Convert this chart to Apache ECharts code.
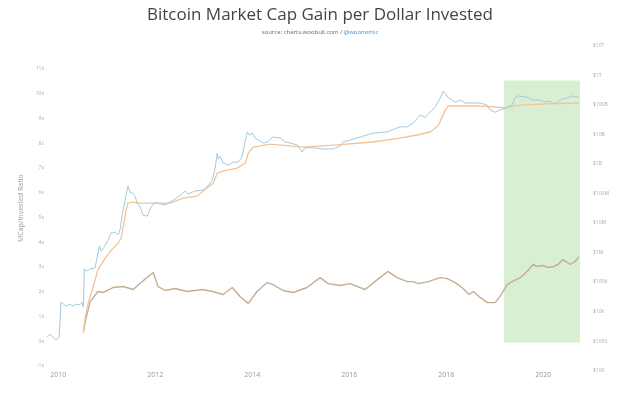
<!DOCTYPE html>
<html>
<head>
<meta charset="utf-8">
<script src="https://cdn.jsdelivr.net/npm/echarts@6/dist/echarts.min.js"></script>
<style>
  html, body { margin: 0; padding: 0; background: #fff; }
  #main { width: 640px; height: 397px; }
</style>
</head>
<body>
<div id="main"></div>
<script>
// market cap (blue, right log axis)
const capYears = [2009.77, 2009.84, 2009.90, 2009.96, 2010.02, 2010.05, 2010.06, 2010.10, 2010.16, 2010.25,
  2010.31, 2010.37, 2010.45, 2010.49, 2010.52, 2010.54, 2010.58, 2010.66, 2010.76, 2010.85,
  2010.89, 2010.95, 2011.03, 2011.09, 2011.18, 2011.24, 2011.28, 2011.32, 2011.38, 2011.42,
  2011.44, 2011.48, 2011.55, 2011.59, 2011.63, 2011.69, 2011.75, 2011.84, 2011.90, 2012.00,
  2012.10, 2012.21, 2012.31, 2012.47, 2012.62, 2012.68, 2012.82, 2012.99, 2013.09, 2013.18,
  2013.24, 2013.28, 2013.30, 2013.34, 2013.40, 2013.51, 2013.61, 2013.71, 2013.79, 2013.84,
  2013.90, 2013.94, 2014.00, 2014.06, 2014.12, 2014.23, 2014.31, 2014.43, 2014.58, 2014.68,
  2014.78, 2014.93, 2015.03, 2015.09, 2015.26, 2015.46, 2015.67, 2015.81, 2015.88, 2016.23,
  2016.49, 2016.78, 2017.05, 2017.20, 2017.32, 2017.46, 2017.57, 2017.67, 2017.77, 2017.88,
  2017.94, 2017.98, 2018.04, 2018.12, 2018.19, 2018.29, 2018.39, 2018.56, 2018.70, 2018.85,
  2018.91, 2019.01, 2019.11, 2019.22, 2019.36, 2019.42, 2019.48, 2019.67, 2019.79, 2019.94,
  2020.04, 2020.14, 2020.21, 2020.29, 2020.39, 2020.49, 2020.60, 2020.70, 2020.74];
const capValues = [1400, 1700, 1300, 1100, 1400, 1300, 21000, 19500, 15500, 18000,
  15500, 18000, 17000, 21000, 14000, 280000, 230000, 280000, 300000, 1.66e6,
  1.12e6, 1.55e6, 2.6e6, 4.6e6, 4.9e6, 3.9e6, 6.3e6, 1.86e7, 6.0e7, 1.3e8,
  1.8e8, 1.1e8, 1.0e8, 7.6e7, 4.7e7, 3.5e7, 1.86e7, 1.7e7, 3.2e7, 5.1e7,
  4.4e7, 4.1e7, 5.1e7, 7.5e7, 1.2e8, 9.6e7, 1.2e8, 1.3e8, 1.8e8, 2.8e8,
  7.8e8, 2.3e9, 1.45e9, 1.85e9, 1.07e9, 9.1e8, 1.15e9, 1.15e9, 1.7e9, 4.4e9,
  1.2e10, 9.5e9, 1.1e10, 7.5e9, 6.5e9, 5.1e9, 5.5e9, 8.1e9, 7.5e9, 5.5e9,
  5.1e9, 4.4e9, 2.5e9, 3.5e9, 3.5e9, 3.2e9, 3.2e9, 4.0e9, 5.5e9, 8.1e9,
  1.1e10, 1.2e10, 1.8e10, 1.8e10, 2.4e10, 4.5e10, 3.8e10, 5.6e10, 8.3e10, 1.7e11,
  2.9e11, 2.5e11, 1.8e11, 1.45e11, 1.23e11, 1.45e11, 1.15e11, 1.15e11, 1.15e11, 9.8e10,
  6.6e10, 5.6e10, 6.6e10, 7.8e10, 9.8e10, 1.7e11, 2.0e11, 1.8e11, 1.45e11, 1.45e11,
  1.23e11, 1.35e11, 1.07e11, 1.23e11, 1.55e11, 1.7e11, 2.0e11, 1.8e11, 1.8e11];

// money invested (orange, right log axis)
const investYears = [2010.52, 2010.56, 2010.62, 2010.72, 2010.82, 2010.97, 2011.13, 2011.24, 2011.30, 2011.36,
  2011.40, 2011.44, 2011.53, 2011.69, 2012.04, 2012.31, 2012.58, 2012.87, 2012.99, 2013.20,
  2013.28, 2013.40, 2013.69, 2013.86, 2013.92, 2014.02, 2014.37, 2015.05, 2015.75, 2016.49,
  2017.05, 2017.40, 2017.67, 2017.84, 2017.98, 2018.04, 2018.70, 2019.05, 2019.22, 2019.53,
  2020.08, 2020.74];
const investValues = [1900, 6600, 19500, 68000, 260000, 650000, 1.4e6, 2.1e6, 3.1e6, 1.07e7,
  2.75e7, 4.7e7, 5.1e7, 4.7e7, 4.7e7, 4.7e7, 6.9e7, 8.1e7, 1.2e8, 2.2e8,
  4.9e8, 5.7e8, 7.2e8, 1.07e9, 2.3e9, 3.7e9, 4.7e9, 3.7e9, 4.4e9, 5.5e9,
  7.5e9, 9.5e9, 1.2e10, 2.0e10, 6.6e10, 9.1e10, 9.1e10, 8.3e10, 7.8e10, 9.8e10,
  1.07e11, 1.15e11];

// MCap / invested ratio (brown, left axis)
const ratioYears = [2010.52, 2010.56, 2010.66, 2010.82, 2010.93, 2011.13, 2011.34, 2011.55, 2011.73, 2011.96,
  2012.06, 2012.21, 2012.41, 2012.66, 2012.97, 2013.18, 2013.40, 2013.59, 2013.75, 2013.92,
  2014.10, 2014.31, 2014.43, 2014.64, 2014.85, 2015.13, 2015.40, 2015.57, 2015.81, 2016.02,
  2016.33, 2016.58, 2016.80, 2016.99, 2017.20, 2017.32, 2017.42, 2017.63, 2017.88, 2018.02,
  2018.19, 2018.35, 2018.47, 2018.56, 2018.70, 2018.85, 2019.01, 2019.11, 2019.26, 2019.36,
  2019.53, 2019.67, 2019.79, 2019.88, 2020.00, 2020.10, 2020.21, 2020.31, 2020.41, 2020.56,
  2020.66, 2020.74];
const ratioValues = [0.39, 0.80, 1.60, 2.01, 1.97, 2.17, 2.21, 2.09, 2.41, 2.78,
  2.21, 2.05, 2.13, 2.01, 2.09, 2.01, 1.89, 2.17, 1.81, 1.53,
  2.01, 2.37, 2.29, 2.05, 1.97, 2.17, 2.57, 2.33, 2.25, 2.33,
  2.09, 2.49, 2.82, 2.57, 2.41, 2.41, 2.33, 2.41, 2.57, 2.53,
  2.37, 2.13, 1.89, 2.01, 1.77, 1.56, 1.56, 1.81, 2.29, 2.41,
  2.57, 2.82, 3.10, 3.02, 3.06, 2.98, 3.02, 3.10, 3.30, 3.10,
  3.22, 3.42];

const yearTicks = [2010, 2012, 2014, 2016, 2018, 2020];
const ratioTicks = [-1, 0, 1, 2, 3, 4, 5, 6, 7, 8, 9, 10, 11];
const dollarLabels = ['$100', '$1000', '$10k', '$100k', '$1M', '$10M', '$100M', '$1B', '$10B', '$100B', '$1T', '$10T'];
const highlightRange = [2019.19, 2020.76];

const zip = (xs, ys) => xs.map((x, i) => [x, ys[i]]);

const chart = echarts.init(document.getElementById('main'));
const labelColor = '#aaa';

chart.setOption({
  animation: false,
  backgroundColor: '#fff',
  textStyle: { fontFamily: 'Open Sans' },
  title: {
    text: 'Bitcoin Market Cap Gain per Dollar Invested',
    subtext: '{a|source: charts.woobull.com / }{b|@woonomic}',
    left: 'center',
    top: 2,
    itemGap: 5,
    textStyle: { fontSize: 17, fontWeight: 'normal', color: '#444', fontFamily: 'Open Sans' },
    subtextStyle: {
      fontSize: 6,
      rich: {
        a: { fontSize: 6, color: '#666', fontFamily: 'Open Sans' },
        b: { fontSize: 6, color: '#3b8ed0', fontFamily: 'Open Sans' }
      }
    }
  },
  grid: { left: 47, right: 60, top: 45.7, bottom: 26.3 },
  xAxis: {
    type: 'value',
    min: 2009.77,
    max: 2020.76,
    axisLine: { show: false },
    axisTick: { show: false },
    splitLine: { show: false },
    axisLabel: {
      customValues: yearTicks,
      color: '#999',
      fontSize: 7,
      margin: 1,
      formatter: v => String(Math.round(v))
    }
  },
  yAxis: [
    {
      type: 'value',
      position: 'left',
      min: -1.19,
      max: 11.94,
      name: 'MCap/Invested Ratio',
      nameLocation: 'middle',
      nameGap: 19,
      nameTextStyle: { color: '#999', fontSize: 7 },
      axisLine: { show: false },
      axisTick: { show: false },
      splitLine: { show: false },
      axisLabel: {
        customValues: ratioTicks,
        color: labelColor,
        fontSize: 5,
        margin: 3,
        formatter: v => Math.round(v) + 'x'
      }
    },
    {
      type: 'log',
      logBase: 10,
      position: 'right',
      min: 100,
      max: 1e13,
      interval: 1,
      axisLine: { show: false },
      axisTick: { show: false },
      splitLine: { show: false },
      axisLabel: {
        color: labelColor,
        fontSize: 5,
        margin: 13,
        formatter: v => dollarLabels[Math.round(Math.log10(v)) - 2] || ''
      }
    }
  ],
  series: [
    {
      name: 'Ratio',
      type: 'line',
      yAxisIndex: 0,
      data: zip(ratioYears, ratioValues),
      showSymbol: false,
      lineStyle: { color: '#c4ae93', width: 1.4 },
      markArea: {
        silent: true,
        itemStyle: { color: '#d9efd2' },
        data: [[
          { xAxis: highlightRange[0], yAxis: 10.53 },
          { xAxis: highlightRange[1], yAxis: -0.05 }
        ]]
      }
    },
    {
      name: 'Invested',
      type: 'line',
      yAxisIndex: 1,
      data: zip(investYears, investValues),
      showSymbol: false,
      lineStyle: { color: '#f4c399', width: 1.3 }
    },
    {
      name: 'Market Cap',
      type: 'line',
      yAxisIndex: 1,
      data: zip(capYears, capValues),
      showSymbol: false,
      lineStyle: { color: '#a3cbde', width: 1 }
    }
  ]
});
</script>
</body>
</html>
